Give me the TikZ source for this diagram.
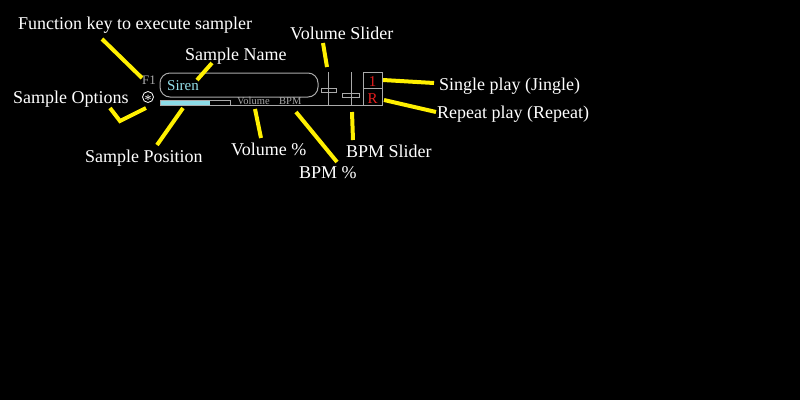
\documentclass[tikz,border=0pt]{standalone}
\usepackage{fontspec}
\setmainfont{Liberation Serif}
\usetikzlibrary{calc, positioning}
\definecolor{panelgray}{RGB}{170,170,170}
\definecolor{sirencyan}{RGB}{150,225,235}
\definecolor{barcyan}{RGB}{140,220,232}
\definecolor{playred}{RGB}{230,30,30}
\definecolor{callout}{RGB}{255,240,0}

\begin{document}
\begin{tikzpicture}[x=1pt, y=-1pt,
    label/.style={text=white, inner sep=0pt, anchor=base west, font=\fontsize{18}{20}\selectfont},
    small/.style={text=panelgray, inner sep=0pt, anchor=base west, font=\fontsize{10.5}{12}\selectfont},
    pointer/.style={callout, line width=4pt}]
  % Background and page size
  \fill[black] (0,0) rectangle (800,400);
  \useasboundingbox (0,0) rectangle (800,400);

  % Sampler panel
  \draw[panelgray, line width=1pt, rounded corners=10pt] (160,73) rectangle (318,97);
  \node (siren) [inner sep=0pt, anchor=base west, text=sirencyan, font=\fontsize{15}{16}\selectfont] at (167,90.5) {Siren};
  \node (fone) [inner sep=0pt, anchor=base west, text=panelgray, font=\fontsize{13}{14}\selectfont] at (142,84) {F1};
  \node (opt) [circle, draw=white, line width=0.8pt, minimum size=11pt, inner sep=0pt] at (148,97) {};
  \node (star) [inner sep=0pt, text=white, font=\fontsize{14}{14}\selectfont] at ([yshift=-2.5pt]opt.center) {*};

  % Position bar
  \fill[barcyan] (160,100) rectangle (210,105);
  \draw[panelgray, line width=1pt] (160,100) rectangle (230,105);
  \draw[panelgray, line width=1pt] (230,105) -- (382,105);
  \node (vol) [small] at (237,104) {Volume};
  \node (bpm) [small] at (279,104) {BPM};

  % Sliders
  \draw[panelgray, line width=1pt] (328,72) -- (328,105);
  \draw[panelgray, line width=1pt] (321,88) rectangle (336,92);
  \draw[panelgray, line width=1pt] (351,72) -- (351,105);
  \draw[panelgray, line width=1pt] (342,93) rectangle (359,97);

  % Play mode buttons
  \draw[panelgray, line width=1pt] (363,72) rectangle (382,105);
  \draw[panelgray, line width=1pt] (363,88.5) -- (382,88.5);
  \node (one) [inner sep=0pt, anchor=base, text=playred, font=\fontsize{15}{16}\selectfont] at (372.5,86) {1};
  \node (rep) [inner sep=0pt, anchor=base, text=playred, font=\fontsize{15}{16}\selectfont] at (372.5,103) {R};

  % Labels
  \node (fkey) [label] at (18,29.5) {Function key to execute sampler};
  \node (sname) [label] at (185,60) {Sample Name};
  \node (vslider) [label] at (290,39.5) {Volume Slider};
  \node (sopt) [label] at (13,103) {Sample Options};
  \node (single) [label] at (439,90) {Single play (Jingle)};
  \node (repeat) [label] at (437,118.5) {Repeat play (Repeat)};
  \node (spos) [label] at (85,162) {Sample Position};
  \node (volpct) [label] at (231,155) {Volume \%};
  \node (bslider) [label] at (346,157) {BPM Slider};
  \node (bpmpct) [label] at (299,178.5) {BPM \%};

  % Callout ends
  \coordinate (fkey end) at (102,39);    \coordinate (fkey tip) at (142,78);
  \coordinate (sname end) at (212,63);   \coordinate (sname tip) at (197,80);
  \coordinate (sopt end) at (110,108);   \coordinate (sopt bend) at (120,121);
  \coordinate (sopt tip) at (146,108);
  \coordinate (spos end) at (157,145);   \coordinate (spos tip) at (183,108);
  \coordinate (volpct end) at (261,138); \coordinate (volpct tip) at (255,109);
  \coordinate (bpmpct end) at (337,162); \coordinate (bpmpct tip) at (296,112);
  \coordinate (bslider end) at (353,140); \coordinate (bslider tip) at (352,112);
  \coordinate (vslider end) at (323,43); \coordinate (vslider tip) at (327,67);
  \coordinate (single end) at (434,83);  \coordinate (single tip) at (383,80);
  \coordinate (repeat end) at (436,112); \coordinate (repeat tip) at (384,100);

  % Yellow callouts
  \draw[pointer] (fkey end) -- (fkey tip);
  \draw[pointer] (sname end) -- (sname tip);
  \draw[pointer] (sopt end) -- (sopt bend) -- (sopt tip);
  \draw[pointer] (spos end) -- (spos tip);
  \draw[pointer] (volpct end) -- (volpct tip);
  \draw[pointer] (bpmpct end) -- (bpmpct tip);
  \draw[pointer] (bslider end) -- (bslider tip);
  \draw[pointer] (vslider end) -- (vslider tip);
  \draw[pointer] (single end) -- (single tip);
  \draw[pointer] (repeat end) -- (repeat tip);
\end{tikzpicture}
\end{document}
